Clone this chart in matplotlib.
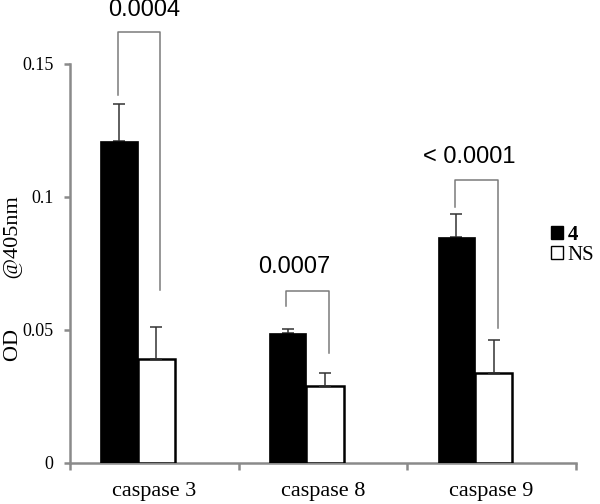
import matplotlib
matplotlib.use("Agg")
import matplotlib.pyplot as plt
import numpy as np

# data
categories = ['caspase 3', 'caspase 8', 'caspase 9']
drug4 = [0.121, 0.0486, 0.085]
drug4_err = [0.0137, 0.0015, 0.0084]
ns = [0.0389, 0.0288, 0.0338]
ns_err = [0.0122, 0.0050, 0.0123]
p_values = ['0.0004', '0.0007', '< 0.0001']

# significance brackets (y of top bar, left leg end, right leg end)
bracket_top = [0.1620, 0.0645, 0.1063]
bracket_left = [0.1382, 0.0589, 0.0962]
bracket_right = [0.0649, 0.0412, 0.0506]
p_text_x = [-0.062, -0.171, -0.130]
p_text_y = [0.1702, 0.0737, 0.1149]

SERIF = 'Liberation Serif'
SANS = 'Liberation Sans'
AXIS_GREY = '#8a8a8a'
WIDTH = 0.222


def draw():
    fig = plt.figure(figsize=(6, 5.04), dpi=100)
    ax = fig.add_axes([0.1167, 0.082, 0.8433, 0.7916])

    x = np.arange(len(categories))
    ax.bar(x - 0.21, drug4, WIDTH, color='black', edgecolor='black',
           linewidth=0.5, label='4', zorder=3)
    ax.bar(x + 0.012, ns, WIDTH, color='white', edgecolor='black',
           linewidth=1.8, label='NS', zorder=3)

    # upper error bars only
    ax.errorbar(x - 0.21, drug4, yerr=[np.zeros(3), drug4_err], fmt='none',
                ecolor='#333333', elinewidth=1.1, capsize=4, capthick=1.1,
                zorder=2)
    ax.errorbar(x + 0.012, ns, yerr=[np.zeros(3), ns_err], fmt='none',
                ecolor='#333333', elinewidth=1.1, capsize=4, capthick=1.1,
                zorder=4)

    for i in range(len(categories)):
        xl = x[i] - 0.218
        xr = x[i] + 0.035
        ax.plot([xl, xl, xr, xr],
                [bracket_left[i], bracket_top[i], bracket_top[i], bracket_right[i]],
                color='#7a7a7a', linewidth=1.1, clip_on=False, zorder=5)
        ax.text(x[i] + p_text_x[i], p_text_y[i], p_values[i], ha='center',
                va='center', fontsize=17, family=SANS, clip_on=False)

    ax.set_xlim(-0.5, 2.5)
    ax.set_ylim(0, 0.15)
    ax.set_yticks([0, 0.05, 0.1, 0.15])
    ax.set_yticklabels(['0', '0.05', '0.1', '0.15'], family=SERIF, fontsize=13)
    ax.set_xticks(x)
    ax.set_xticklabels(categories, family=SERIF, fontsize=16)
    ax.set_xticks([-0.5, 0.5, 1.5, 2.5], minor=True)
    ax.tick_params(axis='x', which='major', length=0, pad=14)
    ax.tick_params(axis='x', which='minor', length=5, width=1.8,
                   color=AXIS_GREY, direction='out')
    ax.tick_params(axis='y', length=4, width=1.8, color=AXIS_GREY,
                   direction='out', pad=8)

    for side in ['top', 'right']:
        ax.spines[side].set_visible(False)
    for side in ['left', 'bottom']:
        ax.spines[side].set_color(AXIS_GREY)
        ax.spines[side].set_linewidth(1.8)

    fig.text(14 / 600, 1 - 279 / 504, 'OD         @405nm', family=SERIF,
             fontsize=16, rotation=90, ha='center', va='center')

    leg = fig.legend(loc='center left', bbox_to_anchor=(0.918, 0.514),
                     frameon=False, handlelength=0.6, handleheight=0.6,
                     handletextpad=0.2, labelspacing=0.05, borderpad=0,
                     borderaxespad=0, prop={'family': SERIF, 'size': 15})
    leg.get_texts()[0].set_fontweight('bold')
    for h in leg.legend_handles:
        h.set_linewidth(1.0)

    fig.savefig('out.png', dpi=100)


draw()
